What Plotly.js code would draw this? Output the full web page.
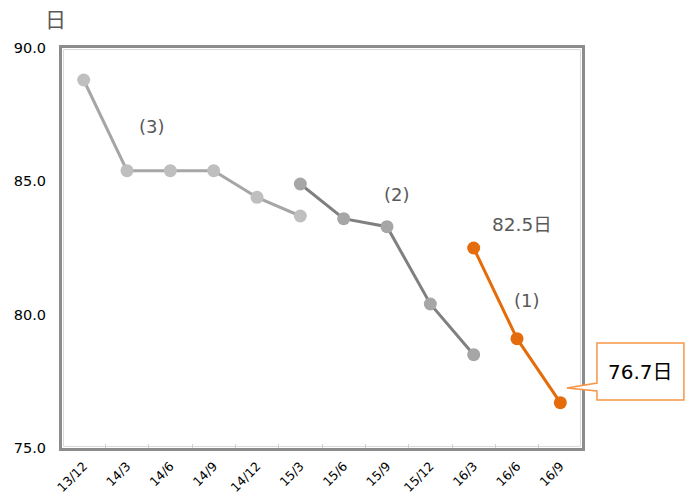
<!DOCTYPE html>
<html><head><meta charset="utf-8">
<script src="https://cdn.plot.ly/plotly-3.0.1.min.js"></script>
<style>html,body{margin:0;padding:0;background:#fff}#chart{width:689px;height:497px}</style>
</head><body><div id="chart"></div>
<script>
const categories = ['13/12','14/3','14/6','14/9','14/12','15/3','15/6','15/9','15/12','16/3','16/6','16/9'];
const cat3 = ['13/12','14/3','14/6','14/9','14/12','15/3'];
const val3 = [88.8,85.4,85.4,85.4,84.4,83.7];
const cat2 = ['15/3','15/6','15/9','15/12','16/3'];
const val2 = [84.9,83.6,83.3,80.4,78.5];
const cat1 = ['16/3','16/6','16/9'];
const val1 = [82.5,79.1,76.7];
const yTicks = [75,80,85,90];

const FONT = 'DejaVu Sans, Noto Sans CJK JP, sans-serif';
const traces = [
  {x:cat3,y:val3,type:'scatter',mode:'lines+markers',line:{color:'#a6a6a6',width:3},marker:{color:'#bfbfbf',size:13},cliponaxis:false},
  {x:cat2,y:val2,type:'scatter',mode:'lines+markers',line:{color:'#808080',width:3},marker:{color:'#a6a6a6',size:13},cliponaxis:false},
  {x:cat1,y:val1,type:'scatter',mode:'lines+markers',line:{color:'#e46c0a',width:3},marker:{color:'#e46c0a',size:13},cliponaxis:false}
];
const layout = {
  width:689,height:497,showlegend:false,
  margin:{l:62,r:107,t:48,b:49},
  paper_bgcolor:'#fff',plot_bgcolor:'#fff',
  font:{family:FONT,size:13,color:'#000'},
  xaxis:{type:'category',categoryorder:'array',categoryarray:categories,range:[-0.5,11.5],
    tickangle:-45,tickson:'boundaries',ticks:'inside',ticklen:4,tickcolor:'#d0d0d0',ticklabelstandoff:3,
    showgrid:false,zeroline:false,showline:true,mirror:true,linecolor:'#8c8c8c',linewidth:3,
    tickfont:{size:12.5,color:'#000'}},
  yaxis:{range:[75,90],tickvals:yTicks,tickformat:'.1f',ticks:'outside',ticklen:10,tickcolor:'rgba(0,0,0,0)',
    showgrid:false,zeroline:false,showline:true,mirror:true,linecolor:'#8c8c8c',linewidth:3,
    tickfont:{size:14.5,color:'#000'}},
  shapes:[
    {type:'rect',xref:'paper',yref:'paper',x0:0.003,x1:0.997,y0:0.004,y1:0.996,line:{color:'#d9d9d9',width:1},layer:'below'},
    {type:'path',xref:'paper',yref:'paper',
     path:'M 1.0288 0.2625 L 1.196 0.2625 L 1.196 0.12 L 1.0288 0.12 L 1.0288 0.1425 L 0.971 0.15 L 1.0288 0.1625 Z',
     fillcolor:'#fff',line:{color:'#f79646',width:1.5}}
  ],
  annotations:[
    {xref:'paper',yref:'paper',x:-0.012,y:1.07,text:'日',showarrow:false,font:{size:21,color:'#595959'},xanchor:'center',yanchor:'middle'},
    {x:1.58,y:87.06,text:'(3)',showarrow:false,font:{size:18,color:'#595959'}},
    {x:7.23,y:84.5,text:'(2)',showarrow:false,font:{size:18,color:'#595959'}},
    {x:10.23,y:80.54,text:'(1)',showarrow:false,font:{size:18,color:'#595959'}},
    {x:10.12,y:83.4,text:'82.5日',showarrow:false,font:{size:18.5,color:'#595959'}},
    {xref:'paper',yref:'paper',x:1.1124,y:0.19,text:'76.7日',showarrow:false,font:{size:20,color:'#000'},xanchor:'center',yanchor:'middle'}
  ]
};
Plotly.newPlot('chart',traces,layout,{displayModeBar:false,staticPlot:true});
</script></body></html>
